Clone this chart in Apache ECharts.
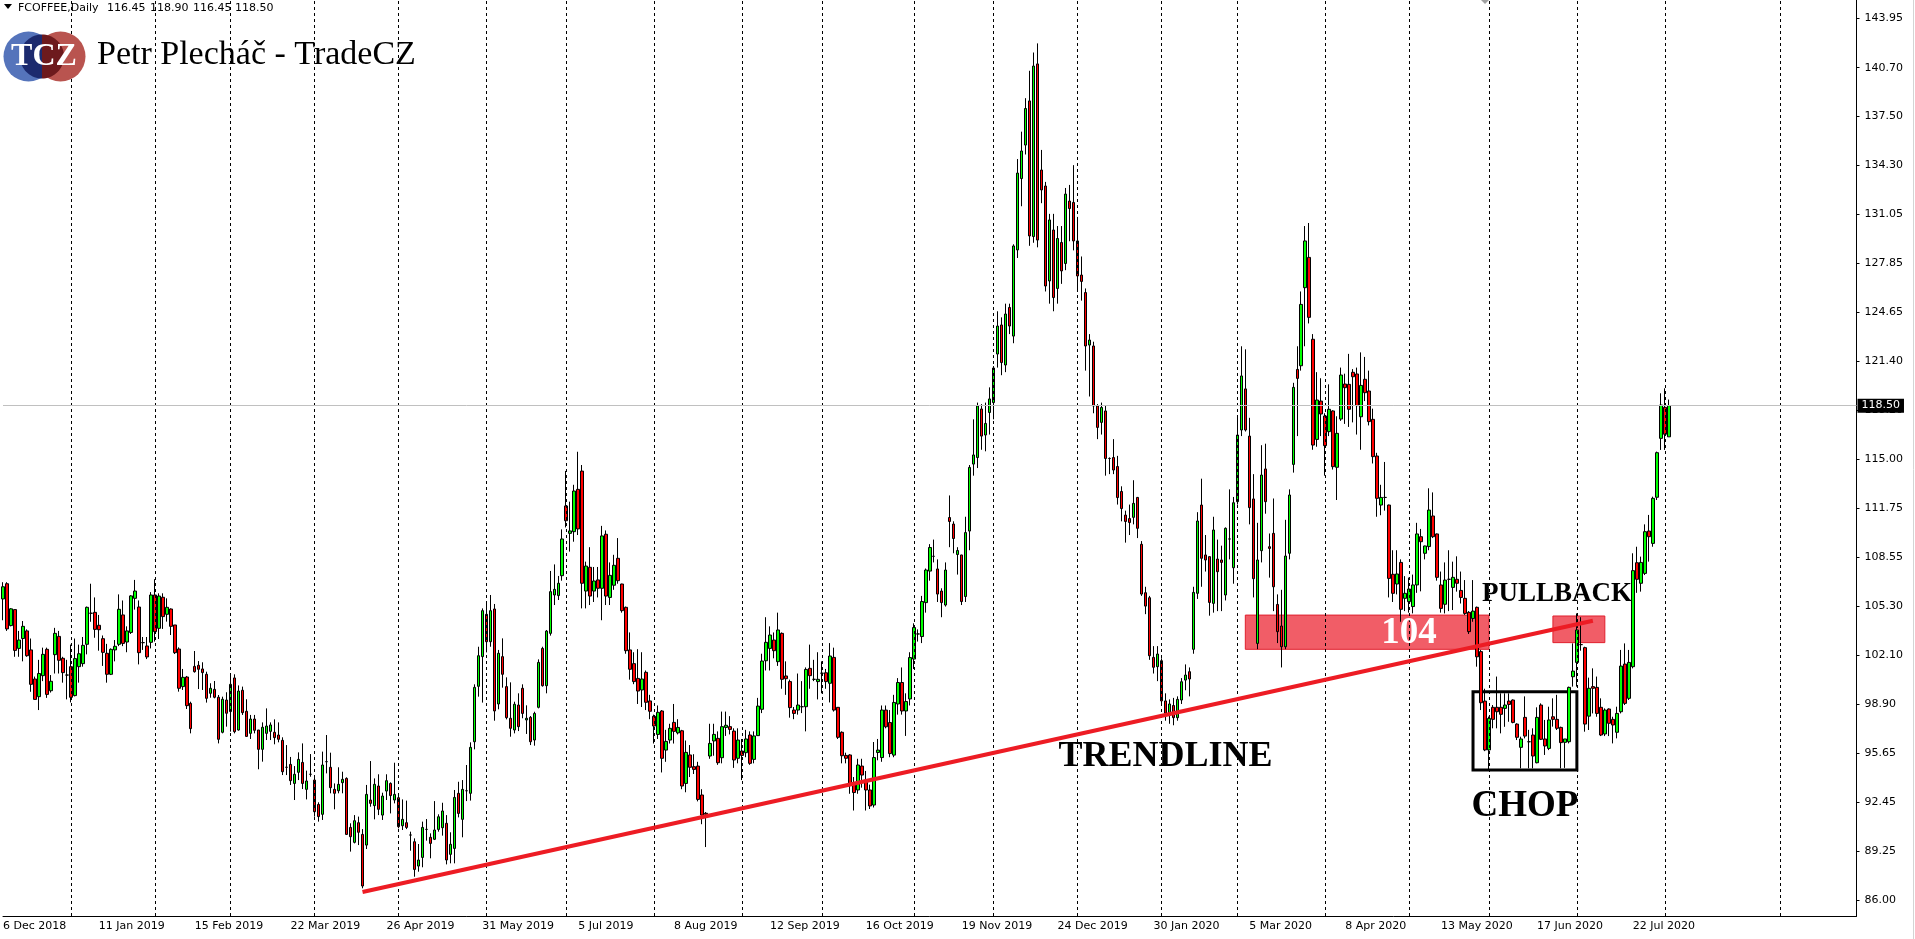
<!DOCTYPE html>
<html>
<head>
<meta charset="utf-8">
<script src="https://cdn.jsdelivr.net/npm/echarts@6.0.0/dist/echarts.min.js"></script>
<style>html,body{margin:0;padding:0;background:#fff;overflow:hidden}#c{width:1915px;height:939px}</style>
</head>
<body>
<div id="c"></div>
<script>
// ---------- data ----------
const firstDay = '2018-12-06';
const holidays = ['2018-12-25','2019-01-01','2019-01-21','2019-02-18','2019-04-19','2019-05-27','2019-07-04','2019-09-02','2019-11-28','2019-12-25','2020-01-01','2020-01-20','2020-02-17','2020-04-10','2020-05-25','2020-07-03','2020-09-07'];
const slotCount = 465;

const opens = [
105.8,106.8,104.05,105.1,102.55,103.2,103.7,102.45,100.54,99.38,
100.76,102.49,99.77,102.14,103.34,101.9,100.8,101.35,99.45,101.35,
101.55,102.82,104.86,104.92,104.07,103.19,102.23,100.85,102.45,102.82,
104.75,102.97,103.6,105.84,105.27,102.93,102.71,102.95,106.06,103.87,
105.91,104.79,105.14,104.09,102.51,100.04,100.67,98.94,101.37,101.44,
101.2,100.85,99.6,99.86,99.34,97.04,99.16,98.4,100.61,97.19,
99.8,98.42,96.97,97.91,97.19,95.92,96.97,97.1,97.04,96.86,
96.51,94.74,94.93,93.68,94.41,95.06,93.29,94.28,93.9,92.3,
91.65,95.11,94.74,93.29,93.2,93.73,94.01,90.79,89.81,91.1,
90.33,89.63,92.59,92.22,93.51,91.6,93.18,93.68,92.59,92.74,
90.9,91.1,90.29,89.85,88.25,88.82,90.66,90.14,90.01,90.66,
90.77,91.06,89.02,89.41,93.03,91.32,93.2,93.03,96.42,100.06,
102.01,104.79,102.99,105.14,98.9,102.01,100.04,97.96,97.19,98.83,
99.93,97.85,98.02,96.53,98.68,102.55,100.1,103.54,106.06,106.02,
107.33,111.91,110.11,110.22,113.0,114.2,106.32,107.88,106.32,107.05,
106.5,110.05,105.9,106.7,108.47,106.78,105.25,102.45,101.55,100.58,
99.82,100.98,99.1,98.09,96.9,98.44,95.87,96.53,97.69,97.0,
97.14,93.68,95.55,94.78,94.82,92.92,91.72,95.48,96.47,96.64,
95.37,97.36,97.41,97.12,95.33,95.81,95.7,96.86,95.26,96.82,
98.55,101.74,102.55,103.1,101.68,103.54,100.74,100.37,98.5,98.5,
98.72,98.72,101.24,100.52,100.37,100.92,100.95,100.26,101.96,98.68,
97.04,95.52,95.55,93.74,93.25,94.82,93.9,93.25,92.26,95.71,
95.38,98.5,97.68,95.54,98.9,100.31,98.44,99.23,101.85,103.5,
103.33,105.56,107.63,108.6,107.77,106.32,105.4,111.15,110.72,108.72,
108.69,105.96,110.26,114.66,115.09,118.28,116.57,118.05,118.7,121.89,
123.8,121.17,124.95,123.07,128.73,133.42,135.62,138.52,129.61,140.95,
133.98,132.93,126.69,130.04,126.2,129.22,127.84,131.94,131.85,129.32,
127.08,125.93,122.48,122.42,118.48,117.4,118.15,115.03,115.09,114.5,
112.86,111.31,111.08,111.16,112.47,109.39,106.21,105.88,101.96,101.35,
101.74,99.1,98.3,98.8,98.0,99.16,100.47,101.02,102.49,106.17,
111.97,108.69,108.58,105.51,108.42,108.36,106.06,109.74,107.85,112.19,
116.9,119.6,116.5,112.37,102.88,108.97,114.34,109.23,110.11,105.44,
104.02,102.66,108.8,114.64,120.88,121.12,126.25,128.24,122.86,116.28,
118.8,117.82,116.79,118.15,114.45,117.62,119.92,119.9,120.69,120.58,
117.77,120.23,119.46,117.6,115.19,111.97,112.47,111.97,107.42,106.78,
108.2,105.84,105.62,105.3,106.72,109.89,108.8,109.24,111.25,110.07,
106.72,105.45,107.09,106.56,107.09,106.36,105.84,104.92,104.52,105.25,
102.34,99.09,95.88,98.68,98.68,98.68,98.61,99.09,99.16,97.58,
96.05,98.02,96.42,96.86,95.04,98.83,96.6,95.98,98.06,97.89,
97.36,96.38,96.42,100.69,101.63,102.8,102.6,98.1,100.04,99.99,
98.68,96.93,98.57,97.89,97.04,98.39,101.52,99.27,101.35,108.18,
106.83,107.48,110.26,109.45,112.48,116.35,118.39,116.45];

const highs = [
106.9,106.9,105.2,105.1,103.7,104.35,103.8,103.2,100.7,101.8,
102.6,102.6,100.8,103.9,103.7,102.0,101.8,102.8,103.2,102.8,
103.3,105.3,106.8,105.9,104.75,103.4,102.85,102.55,103.1,106.1,
105.7,104.0,106.05,107.05,105.7,103.3,103.3,106.25,107.1,106.17,
106.17,105.84,105.18,104.09,102.62,101.2,100.74,99.05,102.38,101.72,
101.64,101.02,100.26,100.41,99.49,99.38,99.67,100.78,100.85,100.12,
100.04,99.21,98.18,98.18,97.19,97.69,98.61,97.69,97.89,97.69,
96.71,96.2,95.42,94.82,95.72,96.31,94.52,95.61,94.23,92.44,
95.77,96.86,95.7,93.68,94.74,94.45,94.08,91.06,91.6,91.5,
90.68,93.58,95.15,94.01,94.28,93.07,94.28,93.75,95.04,92.85,
92.63,92.55,90.51,90.07,89.7,91.17,91.34,90.4,92.52,91.65,
92.41,91.6,90.47,93.25,93.79,93.9,94.89,96.38,100.19,102.66,
105.18,105.51,106.06,105.47,102.45,103.21,100.65,100.32,99.05,99.6,
100.19,98.81,98.11,98.39,101.83,102.66,103.76,107.64,108.07,107.31,
110.37,114.21,112.19,113.3,115.47,114.6,108.25,109.2,107.9,107.9,
110.6,110.3,108.2,108.7,109.8,106.8,105.3,103.6,102.3,102.5,
102.3,101.1,99.5,98.2,98.8,98.5,97.2,97.6,98.9,97.9,
97.2,96.5,96.2,95.6,95.1,93.3,91.8,97.6,97.6,97.1,
98.4,98.4,98.1,97.3,97.3,96.6,97.2,97.1,97.1,99.3,
102.2,104.6,104.0,103.6,104.9,103.6,101.7,100.5,98.7,100.9,
100.4,101.3,102.8,101.8,102.3,101.7,101.2,102.9,102.6,98.7,
97.1,95.7,95.6,94.1,95.3,95.3,94.5,93.6,96.4,96.6,
98.8,98.8,98.5,99.5,100.6,101.3,99.6,102.3,104.2,103.8,
106.0,107.8,109.4,109.7,108.4,106.5,108.2,112.6,110.9,109.2,
108.7,111.2,114.6,117.6,118.7,118.6,118.7,119.7,121.1,124.7,
124.3,125.2,125.2,129.1,134.7,136.5,138.7,140.5,141.7,142.3,
135.3,133.2,131.1,131.1,130.3,130.3,132.8,133.0,134.3,130.9,
128.3,126.2,123.2,122.7,118.6,118.7,118.5,115.1,116.3,115.2,
113.2,111.6,112.0,113.6,112.5,109.6,106.6,106.0,102.7,102.7,
101.9,99.6,99.2,99.3,99.4,100.6,101.5,101.3,106.6,111.5,
113.7,110.0,108.6,111.2,109.7,109.3,110.5,113.0,112.5,117.8,
122.4,122.2,117.7,114.0,110.8,115.9,116.0,110.1,112.4,106.1,
106.4,111.0,113.0,120.0,122.4,126.0,130.3,130.5,123.2,120.7,
120.3,118.0,119.9,118.2,117.8,121.0,120.6,121.9,120.9,121.0,
122.0,121.7,120.8,118.3,115.4,113.3,114.8,112.0,109.0,109.0,
108.4,107.3,107.2,107.4,110.8,110.4,109.3,113.07,112.8,110.1,
107.6,108.2,109.0,108.25,108.6,107.6,107.04,105.0,107.04,105.3,
102.45,99.9,98.07,98.83,100.7,99.6,99.6,99.6,99.2,97.63,
96.75,99.4,97.2,97.3,98.68,98.94,97.85,98.72,99.27,99.5,
97.41,96.6,100.04,102.88,104.85,104.6,102.66,100.63,101.24,100.7,
99.27,98.61,98.61,98.06,98.72,102.45,102.88,102.45,108.8,109.23,
108.58,110.7,111.32,112.52,115.48,119.31,119.64,118.9];

const lows = [
104.4,103.7,104.0,102.0,102.0,101.7,102.0,99.7,99.2,98.5,
100.4,99.3,99.65,100.9,100.9,100.3,99.2,99.0,99.4,100.3,
101.35,102.16,104.3,103.25,102.4,101.4,100.3,100.8,101.7,102.7,
102.7,102.3,103.5,105.1,101.5,102.45,101.85,102.55,103.0,103.17,
103.83,104.31,103.43,102.18,99.71,99.82,98.57,96.97,100.96,99.88,
99.82,98.99,99.31,99.27,96.31,96.97,97.41,97.08,96.97,97.15,
98.18,96.75,96.6,96.97,94.61,95.11,96.53,96.53,96.25,96.38,
94.23,94.23,93.58,92.59,93.9,93.31,92.63,94.12,91.5,91.17,
91.28,94.34,93.03,91.98,93.03,93.03,90.29,89.2,89.74,89.63,
86.79,89.37,92.15,91.32,91.6,91.28,92.59,91.71,92.37,90.73,
90.62,90.68,89.26,87.55,87.88,88.17,89.92,88.76,89.96,90.51,
90.25,88.36,88.43,88.43,91.45,90.14,92.52,92.55,95.92,99.38,
98.99,102.29,102.66,97.8,98.55,99.97,97.89,96.75,96.97,97.12,
97.96,96.93,96.2,96.16,98.61,100.04,99.6,103.39,105.4,105.73,
107.0,110.5,108.91,109.56,110.0,105.18,105.18,105.4,105.6,105.9,
104.4,105.4,105.4,106.4,106.8,104.9,102.2,100.5,100.2,98.9,
98.7,98.5,97.9,96.3,96.6,94.4,95.1,96.3,96.3,96.9,
93.3,93.1,94.1,94.3,92.5,91.0,89.5,95.3,95.5,94.9,
95.0,96.8,96.9,94.7,95.0,93.9,95.4,94.9,95.0,96.8,
98.3,101.1,101.1,101.9,101.4,99.9,99.5,98.0,97.9,98.2,
98.3,97.1,99.9,100.4,99.2,99.6,99.9,99.0,98.4,96.6,
95.0,95.0,93.0,91.9,93.0,93.4,91.9,92.0,92.1,95.2,
95.1,97.3,95.4,95.4,98.2,98.2,96.8,98.8,101.2,103.0,
102.9,104.9,107.0,108.2,105.6,104.6,105.3,109.2,108.8,107.4,
105.4,105.6,109.0,113.9,114.4,115.6,115.5,116.6,117.6,121.0,
120.5,120.7,123.2,122.6,128.2,131.6,135.0,129.0,129.2,128.9,
131.8,126.0,125.2,124.7,125.2,126.5,127.4,129.3,128.7,126.1,
125.4,120.8,119.1,118.0,116.3,116.6,113.9,114.0,114.0,112.0,
110.9,109.5,110.0,110.7,109.8,106.0,104.8,101.8,100.9,100.4,
98.9,97.8,97.6,97.5,97.8,98.9,99.8,99.4,102.2,105.8,
106.6,107.6,104.7,104.9,105.0,105.0,105.7,108.4,106.8,112.0,
116.5,116.8,110.7,105.9,102.5,108.2,111.4,107.2,105.0,102.9,
101.3,102.5,108.4,114.1,116.5,120.8,122.4,123.9,115.6,115.8,
116.5,113.9,116.5,114.3,112.3,117.5,117.3,117.1,117.4,116.6,
115.6,118.8,117.2,114.7,111.2,111.3,111.6,105.9,105.6,106.1,
104.3,105.0,104.9,104.85,106.2,106.3,108.4,109.0,109.8,107.0,
104.9,104.85,105.0,105.07,106.28,105.5,104.75,103.5,104.3,101.35,
98.5,95.8,94.56,97.3,97.3,96.97,97.4,97.73,97.63,96.53,
94.67,96.64,94.67,94.67,95.0,96.53,95.55,95.87,97.41,97.19,
94.67,94.7,96.31,100.04,100.04,102.4,97.08,97.19,98.28,98.06,
96.79,96.79,96.79,96.31,96.64,98.28,98.83,99.16,101.24,106.2,
106.28,107.37,108.25,109.23,112.3,115.59,115.59,116.45];

const closes = [
106.6,103.83,105.15,102.42,103.1,104.0,102.07,100.19,99.2,100.9,
102.16,99.53,100.39,103.54,101.77,100.96,100.8,99.34,101.88,102.2,
102.75,105.25,104.86,103.8,103.78,102.29,100.85,102.49,102.69,105.12,
102.88,103.7,106.0,106.32,102.27,102.93,101.99,106.06,103.65,105.99,
104.64,105.25,104.0,102.27,99.93,100.65,98.79,97.28,101.02,101.18,
100.96,99.27,99.93,99.34,96.58,99.21,98.29,100.19,97.08,99.75,
98.33,96.77,97.91,97.17,95.92,97.37,97.45,97.52,96.69,96.58,
94.45,94.74,93.86,94.28,95.26,93.68,93.84,94.28,91.82,91.5,
94.89,95.11,93.4,93.03,93.62,93.95,90.33,90.18,91.23,90.47,
86.94,92.96,92.37,93.62,91.98,92.85,93.86,92.88,92.96,90.84,
91.32,90.79,90.29,88.03,88.65,90.79,90.66,89.74,90.62,91.49,
91.87,88.65,89.68,92.76,91.71,93.29,93.2,96.05,99.99,102.07,
105.03,102.99,105.03,98.44,102.23,100.85,98.0,97.3,98.88,97.41,
98.28,97.96,96.42,98.28,101.63,100.1,103.69,106.28,106.43,106.83,
109.74,110.94,110.27,112.89,110.4,106.83,107.96,105.99,106.98,106.5,
109.94,105.99,107.35,108.01,107.0,105.03,102.4,101.18,100.37,99.75,
100.54,99.01,98.42,97.45,98.35,95.33,96.44,97.3,97.1,97.36,
93.51,95.72,94.74,94.6,92.63,91.6,91.65,96.31,96.9,95.04,
97.41,97.5,97.23,95.22,96.53,95.52,96.6,95.0,96.8,98.76,
101.72,102.95,103.43,102.4,103.76,100.52,100.56,98.66,98.28,98.83,
98.72,101.17,100.76,100.52,100.52,100.92,100.37,102.05,98.5,96.71,
95.5,95.33,93.58,93.08,94.89,94.23,93.25,92.2,95.38,95.87,
98.5,97.4,95.64,99.0,100.31,98.44,99.06,101.95,103.92,103.5,
105.63,107.7,109.18,108.6,106.12,105.56,107.7,110.89,109.77,108.98,
105.63,110.16,114.44,115.26,118.48,116.5,117.33,118.94,120.97,123.73,
121.33,124.52,123.73,128.99,133.78,135.23,138.02,129.65,140.81,129.38,
132.67,126.36,130.7,125.6,129.48,127.35,132.4,131.45,129.32,127.02,
126.66,122.42,122.81,118.48,117.07,118.38,115.03,115.03,114.27,112.46,
111.74,110.89,110.82,112.08,110.44,106.12,105.33,102.07,101.31,102.18,
99.1,98.3,98.9,98.0,99.2,100.36,100.8,100.54,106.23,110.92,
108.47,108.36,105.57,110.33,107.59,108.2,110.44,109.74,112.12,116.57,
120.45,116.9,111.8,107.13,108.36,113.94,112.19,109.12,106.6,103.65,
102.66,108.62,112.63,119.7,120.29,125.15,129.32,124.3,115.91,118.87,
117.95,115.87,118.26,114.49,116.68,120.51,119.68,118.26,120.4,118.5,
119.83,119.35,117.45,115.15,112.41,112.47,112.47,107.15,106.17,107.44,
105.12,106.17,106.45,106.72,110.07,109.56,109.28,111.64,109.89,107.22,
105.18,107.04,107.09,107.22,106.83,105.9,104.85,103.65,105.0,102.0,
98.98,95.88,97.95,97.89,98.39,98.22,98.83,98.87,97.69,96.71,
96.6,96.79,96.42,95.48,98.02,96.58,96.14,97.85,97.89,97.3,
96.36,96.6,99.99,101.06,103.76,102.8,97.58,99.93,99.93,98.28,
96.86,98.5,97.63,97.52,98.28,101.39,98.94,101.63,107.66,107.09,
108.2,110.22,109.89,112.41,115.41,118.54,116.62,118.5];

const xTickLabels = ['6 Dec 2018','11 Jan 2019','15 Feb 2019','22 Mar 2019','26 Apr 2019','31 May 2019','5 Jul 2019','8 Aug 2019','12 Sep 2019','16 Oct 2019','19 Nov 2019','24 Dec 2019','30 Jan 2020','5 Mar 2020','8 Apr 2020','13 May 2020','17 Jun 2020','22 Jul 2020'];
const xTickStep = 24;
const yTickLabels = [86.00,89.25,92.45,95.65,98.90,102.10,105.30,108.55,111.75,115.00,118.20,121.40,124.65,127.85,131.05,134.30,137.50,140.70,143.95];
const yMin = 84.97, yMax = 145.15;
const lastPrice = 118.50;
const header = {symbol:'FCOFFEE,Daily', ohlc:['116.45','118.90','116.45','118.50']};

// annotations (bar index, price)
const trendline = [[90, 86.55], [398, 104.37]];
const zone104 = [[311, 104.74], [372, 102.49]];
const zonePullback = [[388, 104.68], [401, 102.93]];
const chopBox = [[368, 99.70], [394, 94.56]];
const notes = [
  {text:'TRENDLINE', bar:291, price:95.45, size:36, color:'#000'},
  {text:'CHOP', bar:381, price:92.15, size:37, color:'#000'},
  {text:'PULLBACK', bar:389, price:106.10, size:27, color:'#000'},
  {text:'104', bar:352, price:103.55, size:37, color:'#fff'}
];

// ---------- build ----------
function tradingDays(start, n, hol) {
  const out = [];
  const d = new Date(start + 'T00:00:00Z');
  while (out.length < n) {
    const w = d.getUTCDay();
    const s = d.toISOString().slice(0, 10);
    if (w !== 0 && w !== 6 && hol.indexOf(s) < 0) out.push(s);
    d.setUTCDate(d.getUTCDate() + 1);
  }
  return out;
}
const dates = tradingDays(firstDay, slotCount, holidays);
const nBars = opens.length;
const candles = dates.map((d, i) => i < nBars ? [opens[i], closes[i], lows[i], highs[i]] : '-');
const monthStarts = [];
for (let i = 1; i < nBars; i++) if (dates[i].slice(0, 7) !== dates[i - 1].slice(0, 7)) monthStarts.push(i);
// beyond the last bar the terminal extrapolates one slot per calendar day
(function () {
  const last = new Date(dates[nBars - 1] + 'T00:00:00Z');
  const next = new Date(Date.UTC(last.getUTCFullYear(), last.getUTCMonth() + 1, 1));
  const idx = nBars - 1 + Math.round((next - last) / 86400000);
  if (idx < slotCount) monthStarts.push(idx);
})();

const FONT = '"DejaVu Sans", Verdana, sans-serif';
const SERIF = '"Liberation Serif", "Times New Roman", serif';

function halfDisc(cx, cy, r, right) {
  const pts = [];
  for (let k = 0; k <= 36; k++) {
    const t = -Math.PI / 2 + Math.PI * k / 36;
    pts.push([cx + (right ? 1 : -1) * r * Math.cos(t), cy + r * Math.sin(t)]);
  }
  return pts;
}

const chart = echarts.init(document.getElementById('c'), null, {renderer: 'canvas'});

chart.setOption({
  animation: false,
  backgroundColor: '#ffffff',
  grid: {left: 0.5, right: 58.5, top: 0, bottom: 23, containLabel: false},
  xAxis: {
    type: 'category', data: dates, boundaryGap: false,
    axisLine: {show: true, lineStyle: {color: '#000', width: 1}},
    axisTick: {show: false},
    splitLine: {show: false},
    axisLabel: {
      interval: (i) => i % xTickStep === 0 && i / xTickStep < xTickLabels.length,
      formatter: (v, i) => xTickLabels[i / xTickStep] || '',
      align: 'left', color: '#000', fontFamily: FONT, fontSize: 11, margin: 5
    }
  },
  yAxis: {
    type: 'value', position: 'right', min: yMin, max: yMax,
    axisLine: {show: true, lineStyle: {color: '#000', width: 1}},
    axisTick: {show: true, length: 3, inside: false, customValues: yTickLabels, lineStyle: {color: '#000'}},
    axisLabel: {customValues: yTickLabels, formatter: (v) => v.toFixed(2), color: '#000', fontFamily: FONT, fontSize: 11, margin: 8},
    splitLine: {show: false}
  },
  series: [
    {
      type: 'line', data: [], z: 1, silent: true,
      markLine: {
        silent: true, symbol: ['none', 'none'], animation: false,
        label: {show: false},
        lineStyle: {color: '#000', type: [3, 3], width: 1},
        data: monthStarts.map(i => ({xAxis: dates[i]}))
      }
    },
    {
      type: 'candlestick', data: candles, z: 2, barWidth: 3, silent: true,
      itemStyle: {color: '#00ff00', color0: '#ff0000', borderColor: '#000', borderColor0: '#000', borderWidth: 1},
      markLine: {
        silent: true, symbol: ['none', 'none'], animation: false,
        data: [
          {yAxis: lastPrice, lineStyle: {color: '#c0c0c0', type: 'solid', width: 1},
           label: {show: true, position: 'end', distance: 1, formatter: lastPrice.toFixed(2), backgroundColor: '#000', color: '#fff', padding: [2, 4, 1, 4], fontFamily: FONT, fontSize: 11}}
        ]
      }
    },
    {
      type: 'line', data: [], z: 5, silent: true,
      markArea: {
        silent: true,
        data: [
          [{coord: [dates[zone104[0][0]], zone104[0][1]], itemStyle: {color: 'rgba(236,30,45,0.72)', borderColor: '#e0202e', borderWidth: 1}},
           {coord: [dates[zone104[1][0]], zone104[1][1]]}],
          [{coord: [dates[zonePullback[0][0]], zonePullback[0][1]], itemStyle: {color: 'rgba(236,30,45,0.72)', borderColor: '#e0202e', borderWidth: 1}},
           {coord: [dates[zonePullback[1][0]], zonePullback[1][1]]}],
          [{coord: [dates[chopBox[0][0]], chopBox[0][1]], itemStyle: {color: 'rgba(0,0,0,0)', borderColor: '#000', borderWidth: 3}},
           {coord: [dates[chopBox[1][0]], chopBox[1][1]]}]
        ]
      },
      markLine: {
        silent: true, symbol: ['none', 'none'], animation: false,
        data: [[
          {coord: [dates[trendline[0][0]], trendline[0][1]], lineStyle: {color: '#ed1c24', width: 4, type: 'solid'}, label: {show: false}},
          {coord: [dates[trendline[1][0]], trendline[1][1]]}
        ]]
      }
    },
    {
      type: 'line', data: [], z: 6, silent: true,
      markPoint: {
        silent: true, symbol: 'circle', symbolSize: 1, itemStyle: {color: 'rgba(0,0,0,0)'},
        data: notes.map(n => ({
          coord: [dates[n.bar], n.price], value: n.text,
          label: {show: true, position: 'inside', formatter: n.text, color: n.color, fontFamily: SERIF, fontWeight: 'bold', fontSize: n.size}
        }))
      }
    }
  ],
  graphic: [
    {type: 'polygon', shape: {points: [[4, 4], [12, 4], [8, 9]]}, style: {fill: '#000'}, z: 100},
    {type: 'text', z: 100, style: {text: header.symbol, x: 18, y: 8, fill: '#000', font: '11px ' + FONT, verticalAlign: 'middle'}},
    {type: 'text', z: 100, style: {text: header.ohlc[0], x: 107, y: 8, fill: '#000', font: '11px ' + FONT, verticalAlign: 'middle'}},
    {type: 'text', z: 100, style: {text: header.ohlc[1], x: 150, y: 8, fill: '#000', font: '11px ' + FONT, verticalAlign: 'middle'}},
    {type: 'text', z: 100, style: {text: header.ohlc[2], x: 193, y: 8, fill: '#000', font: '11px ' + FONT, verticalAlign: 'middle'}},
    {type: 'text', z: 100, style: {text: header.ohlc[3], x: 235, y: 8, fill: '#000', font: '11px ' + FONT, verticalAlign: 'middle'}},
    {type: 'polygon', z: 100, shape: {points: [[1481, 0], [1489, 0], [1485, 4]]}, style: {fill: '#a0a0a0'}},
    {type: 'circle', z: 100, shape: {cx: 28.5, cy: 56.5, r: 25}, style: {fill: '#5574bb'}},
    {type: 'circle', z: 100, shape: {cx: 60.5, cy: 56.5, r: 25}, style: {fill: '#b9544f'}},
    {type: 'polygon', z: 101, shape: {points: halfDisc(42, 56.5, 22, false)}, style: {fill: '#1c2a6e'}},
    {type: 'polygon', z: 101, shape: {points: halfDisc(42, 56.5, 22, true)}, style: {fill: '#6d1a1d'}},
    {type: 'text', z: 103, style: {text: 'TCZ', x: 44, y: 57, fill: '#fff', font: 'bold 32px ' + SERIF, align: 'center', verticalAlign: 'middle'}},
    {type: 'text', z: 100, style: {text: 'Petr Plecháč - TradeCZ', x: 97, y: 55, fill: '#000', font: '34px ' + SERIF, verticalAlign: 'middle'}},
    {type: 'line', z: 100, shape: {x1: 1913.5, y1: 0, x2: 1913.5, y2: 939}, style: {stroke: '#d4d4d4', lineWidth: 1}}
  ]
});
</script>
</body>
</html>
